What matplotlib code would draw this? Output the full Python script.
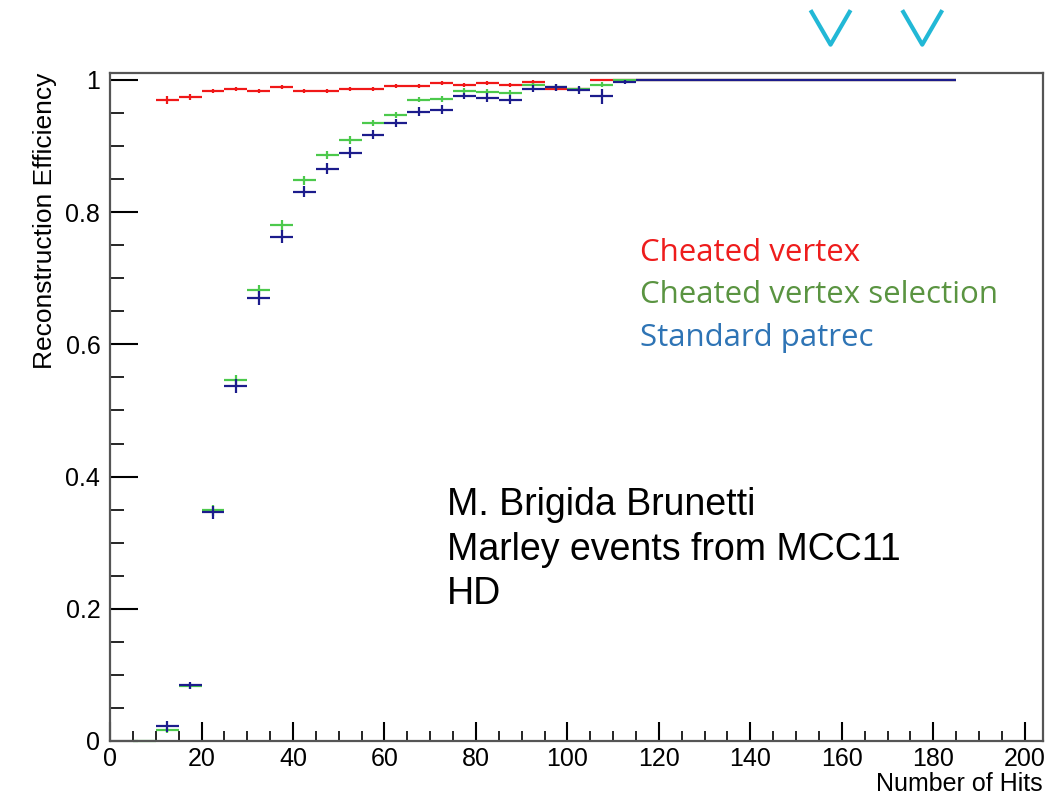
import numpy as np
import matplotlib
matplotlib.use('Agg')
import matplotlib.pyplot as plt
from matplotlib.lines import Line2D
from matplotlib.ticker import MultipleLocator

# lower edges of the 5-hit bins
bin_low = list(range(5, 185, 5))
nan = np.nan

# efficiencies per bin
eff_cheated_vertex = [nan, 0.969, 0.974, 0.984, 0.986, 0.984, 0.989, 0.984, 0.984, 0.986,
                      0.986, 0.991, 0.991, 0.995, 0.992, 0.995, 0.992, 0.997, 0.987, 0.986,
                      1.0, 1.0, 1.0, 1.0, 1.0, 1.0, 1.0, 1.0, 1.0, 1.0,
                      1.0, 1.0, 1.0, 1.0, 1.0, 1.0]
err_cheated_vertex = [nan, 0.006, 0.004, 0.003, 0.003, 0.003, 0.003, 0.003, 0.003, 0.003,
                      0.003, 0.003, 0.003, 0.003, 0.003, 0.003, 0.003, 0.003, 0.003, 0.003,
                      0, 0, 0, 0, 0, 0, 0, 0, 0, 0,
                      0, 0, 0, 0, 0, 0]

eff_vertex_selection = [0.0, 0.016, 0.083, 0.349, 0.546, 0.682, 0.780, 0.848, 0.887, 0.909,
                        0.935, 0.947, 0.970, 0.971, 0.984, 0.982, 0.981, 0.992, 0.990, 0.986,
                        0.993, 1.0, 1.0, 1.0, 1.0, 1.0, 1.0, 1.0, 1.0, 1.0,
                        1.0, 1.0, 1.0, 1.0, 1.0, 1.0]
err_vertex_selection = [0, 0.004, 0.005, 0.008, 0.008, 0.008, 0.008, 0.007, 0.006, 0.006,
                        0.005, 0.005, 0.004, 0.004, 0.004, 0.004, 0.004, 0.004, 0.004, 0.004,
                        0.004, 0, 0, 0, 0, 0, 0, 0, 0, 0,
                        0, 0, 0, 0, 0, 0]

eff_standard = [nan, 0.022, 0.084, 0.346, 0.537, 0.670, 0.763, 0.831, 0.866, 0.890,
                0.917, 0.935, 0.952, 0.955, 0.976, 0.973, 0.970, 0.987, 0.989, 0.985,
                0.975, 0.997, 1.0, 1.0, 1.0, 1.0, 1.0, 1.0, 1.0, 1.0,
                1.0, 1.0, 1.0, 1.0, 1.0, 1.0]
err_standard = [nan, 0.008, 0.005, 0.010, 0.010, 0.010, 0.010, 0.008, 0.008, 0.008,
                0.007, 0.006, 0.007, 0.007, 0.005, 0.007, 0.007, 0.005, 0.005, 0.006,
                0.011, 0.003, 0, 0, 0, 0, 0, 0, 0, 0,
                0, 0, 0, 0, 0, 0]

centres = np.array(bin_low) + 2.5

fig = plt.figure(figsize=(10.54, 7.97), dpi=100)
ax = fig.add_axes([0.1044, 0.0703, 0.8852, 0.8381])

for eff, err, col in [(eff_cheated_vertex, err_cheated_vertex, '#f01818'),
                      (eff_vertex_selection, err_vertex_selection, '#4cc94c'),
                      (eff_standard, err_standard, '#1c1c8c')]:
    eb = ax.errorbar(centres, eff, xerr=2.5, yerr=err, fmt='none', ecolor=col, elinewidth=1.6)
    for coll in eb[2]:
        coll.set_clip_on(False)

ax.set_xlim(0, 204)
ax.set_ylim(0, 1.0105)

tick_font = 'Liberation Sans'
ax.xaxis.set_major_locator(MultipleLocator(20))
ax.xaxis.set_minor_locator(MultipleLocator(5))
ax.yaxis.set_major_locator(MultipleLocator(0.2))
ax.yaxis.set_minor_locator(MultipleLocator(0.05))
ax.set_yticks([0, 0.2, 0.4, 0.6, 0.8, 1.0], ['0', '0.2', '0.4', '0.6', '0.8', '1'])
ax.tick_params(axis='x', which='major', direction='in', length=14, width=1.5, pad=4, labelsize=18)
ax.tick_params(axis='x', which='minor', direction='in', length=7, width=1.2)
ax.tick_params(axis='y', which='major', direction='in', length=20, width=1.5, pad=7, labelsize=18)
ax.tick_params(axis='y', which='minor', direction='in', length=10, width=1.2)
for lab in ax.get_xticklabels() + ax.get_yticklabels():
    lab.set_family(tick_font)
for side in ['top', 'right', 'left', 'bottom']:
    ax.spines[side].set_linewidth(1.6)
    ax.spines[side].set_color('#555555')

ax.set_xlabel('Number of Hits', loc='right', fontsize=18, family=tick_font, labelpad=1)
ax.set_ylabel('Reconstruction Efficiency', loc='top', fontsize=19, family=tick_font, labelpad=6)

# legend-like labels
ax.text(0.568, 0.731, 'Cheated vertex', transform=ax.transAxes, color='#ee1c1c',
        fontsize=22.5, family='Open Sans', va='center')
ax.text(0.568, 0.667, 'Cheated vertex selection', transform=ax.transAxes, color='#5a9441',
        fontsize=22.5, family='Open Sans', va='center')
ax.text(0.568, 0.604, 'Standard patrec', transform=ax.transAxes, color='#2e74b5',
        fontsize=22.5, family='Open Sans', va='center')

ax.text(0.361, 0.38, 'M. Brigida Brunetti\nMarley events from MCC11\nHD', transform=ax.transAxes,
        color='black', fontsize=27, family='Liberation Sans', va='top', linespacing=1.3)

# cyan markers above the frame
for xc in [0.788, 0.875]:
    fig.add_artist(Line2D([xc - 0.018, xc, xc + 0.018], [0.985, 0.944, 0.985],
                          transform=fig.transFigure, color='#22b8d6', lw=3))

fig.savefig('out.png', dpi=100)
